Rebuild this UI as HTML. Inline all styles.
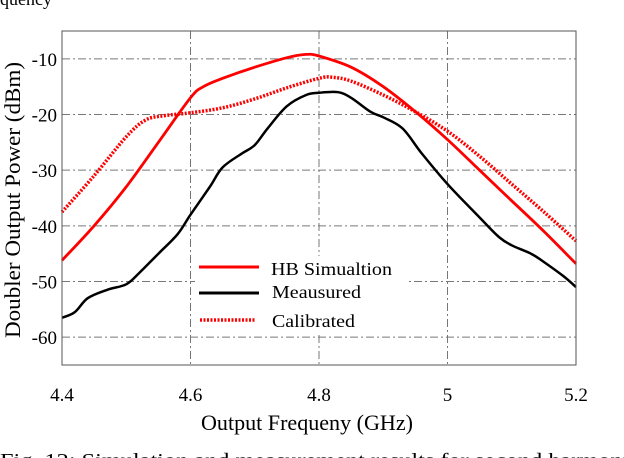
<!DOCTYPE html>
<html><head><meta charset="utf-8"><style>
html,body{margin:0;padding:0;background:#fff;}
svg{display:block;font-family:"Liberation Serif",serif;}
</style></head><body>
<svg width="624" height="458" viewBox="0 0 624 458">
<text x="0" y="5" font-size="18" fill="#000">quency</text>
<g id="grid"></g>
<g id="series"></g>
<g id="legend">
<rect x="195" y="256" width="213" height="76" fill="#fff"/>
<line x1="199" y1="267" x2="259" y2="267" stroke="#f00" stroke-width="3"/>
<text x="271" y="275" font-size="18" textLength="121" lengthAdjust="spacingAndGlyphs">HB Simualtion</text>
<line x1="199" y1="293" x2="259" y2="293" stroke="#000" stroke-width="3"/>
<text x="272" y="298" font-size="18" textLength="89" lengthAdjust="spacingAndGlyphs">Meausured</text>
<line x1="200" y1="320" x2="256" y2="320" stroke="#f00" stroke-width="3.5" stroke-dasharray="2,1.5"/>
<text x="272" y="327" font-size="18" textLength="83" lengthAdjust="spacingAndGlyphs">Calibrated</text>
</g>
<rect x="62" y="31" width="514" height="334" fill="none" stroke="#555" stroke-width="1"/>
<g id="ticks"></g>
<text x="201" y="430" font-size="22" textLength="212" lengthAdjust="spacingAndGlyphs">Output Frequeny (GHz)</text>
<text transform="translate(20,338) rotate(-90)" font-size="22" textLength="276" lengthAdjust="spacingAndGlyphs">Doubler Output Power (dBm)</text>
<text x="0" y="467" font-size="20" textLength="640" lengthAdjust="spacingAndGlyphs">Fig. 12: Simulation and measurement results for second harmonic</text>
</svg>
<script>
const xTicks=[4.4,4.6,4.8,5,5.2];
const xTickLabels=["4.4","4.6","4.8","5","5.2"];
const yTicks=[-10,-20,-30,-40,-50,-60];
const yTickLabels=["-10","-20","-30","-40","-50","-60"];
const hbX=[4.4,4.45,4.5,4.55,4.6,4.62,4.65,4.7,4.75,4.78,4.8,4.85,4.9,4.95,5.0,5.05,5.1,5.15,5.2];
const hbY=[-46.2,-40,-33,-25,-17,-15,-13.5,-11.5,-9.8,-9.2,-9.5,-11.5,-15,-19.5,-24.5,-30,-35.5,-41,-46.8];
const calX=[4.4,4.45,4.5,4.53,4.56,4.6,4.65,4.7,4.75,4.8,4.82,4.85,4.9,4.95,5.0,5.05,5.1,5.15,5.2];
const calY=[-37.5,-31,-24,-21,-20.2,-19.7,-18.8,-17.2,-15.2,-13.5,-13.3,-14,-16.5,-19.5,-23,-27.5,-32.5,-37.5,-42.7];
const measX=[4.4,4.42,4.44,4.47,4.5,4.52,4.55,4.58,4.6,4.63,4.65,4.68,4.7,4.72,4.75,4.78,4.8,4.83,4.85,4.88,4.9,4.93,4.96,5.0,5.05,5.08,5.1,5.13,5.15,5.18,5.2];
const measY=[-56.5,-55.5,-53,-51.5,-50.5,-48.5,-45,-41.5,-38,-33,-29.5,-27,-25.5,-22.5,-18.5,-16.5,-16.1,-16,-17,-19.5,-20.5,-22.5,-27,-32.5,-38.5,-42,-43.5,-45,-46.5,-49,-51];
const NS="http://www.w3.org/2000/svg";
const X0=62,X1=576,Y0=31,Y1=365,xmin=4.4,xmax=5.2,ymin=-65,ymax=-5;
function sx(v){return X0+(v-xmin)/(xmax-xmin)*(X1-X0);}
function sy(v){return Y0+(ymax-v)/(ymax-ymin)*(Y1-Y0);}
function mk(tag,attrs,parent){const e=document.createElementNS(NS,tag);for(const k in attrs)e.setAttribute(k,attrs[k]);parent.appendChild(e);return e;}
const grid=document.getElementById('grid'),ticks=document.getElementById('ticks'),series=document.getElementById('series');
xTicks.forEach((t,i)=>{
  if(i>0&&i<xTicks.length-1){const l=mk('line',{x1:sx(t),x2:sx(t),y1:Y0,y2:Y1,stroke:'#777','stroke-width':1,'stroke-dasharray':'8,3,2,3'},grid);
  
  }
  const tx=mk('text',{x:sx(t),y:401,'font-size':19,'text-anchor':'middle'},ticks);tx.textContent=xTickLabels[i];
  
  
});
yTicks.forEach((t,i)=>{
  const l=mk('line',{x1:X0,x2:X1,y1:sy(t),y2:sy(t),stroke:'#777','stroke-width':1,'stroke-dasharray':'8,3,2,3'},grid);
  
  
  const tx=mk('text',{x:57,y:sy(t)+7,'font-size':19,'text-anchor':'end'},ticks);tx.textContent=yTickLabels[i];
  
  
});
function path(xs,ys){
  const P=xs.map((x,i)=>[sx(x),sy(ys[i])]);
  let d='M'+P[0][0].toFixed(1)+','+P[0][1].toFixed(1);
  for(let i=0;i<P.length-1;i++){
    const p0=P[i-1]||P[i],p1=P[i],p2=P[i+1],p3=P[i+2]||p2;
    const c1=[p1[0]+(p2[0]-p0[0])/6,p1[1]+(p2[1]-p0[1])/6];
    const c2=[p2[0]-(p3[0]-p1[0])/6,p2[1]-(p3[1]-p1[1])/6];
    d+='C'+c1[0].toFixed(1)+','+c1[1].toFixed(1)+' '+c2[0].toFixed(1)+','+c2[1].toFixed(1)+' '+p2[0].toFixed(1)+','+p2[1].toFixed(1);
  }
  return d;
}
const p1=mk('path',{d:path(calX,calY),fill:'none',stroke:'#f00','stroke-width':3.5,'stroke-dasharray':'2,1.5'},series);


const p2=mk('path',{d:path(hbX,hbY),fill:'none',stroke:'#f00','stroke-width':2.8,'stroke-linejoin':'round'},series);


const p3=mk('path',{d:path(measX,measY),fill:'none',stroke:'#000','stroke-width':2.5,'stroke-linejoin':'round'},series);


</script>
</body></html>
